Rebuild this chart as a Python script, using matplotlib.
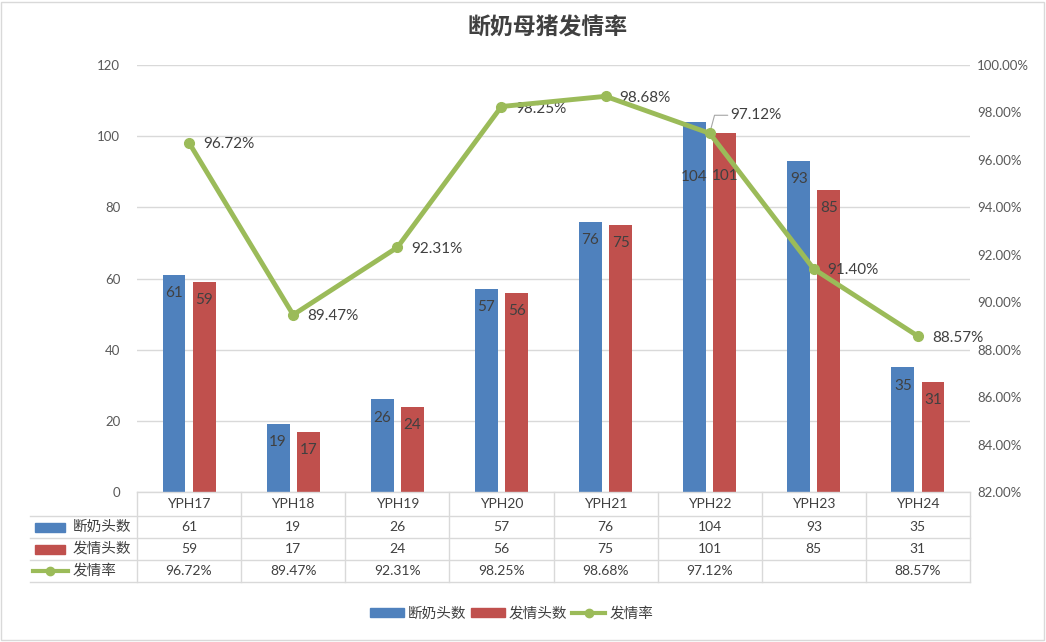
import numpy as np
import matplotlib.pyplot as plt
from matplotlib.patches import Patch, Rectangle
from matplotlib.lines import Line2D
from matplotlib.transforms import blended_transform_factory
from matplotlib.ticker import FuncFormatter

plt.rcParams['font.family'] = ['Lato', 'Noto Sans CJK SC', 'DejaVu Sans']

# данные
categories = ['YPH17', 'YPH18', 'YPH19', 'YPH20', 'YPH21', 'YPH22', 'YPH23', 'YPH24']
weaned = [61, 19, 26, 57, 76, 104, 93, 35]
estrus = [59, 17, 24, 56, 75, 101, 85, 31]
rate = [96.72, 89.47, 92.31, 98.25, 98.68, 97.12, 91.40, 88.57]
rate_table = ['96.72%', '89.47%', '92.31%', '98.25%', '98.68%', '97.12%', '', '88.57%']
series_names = ['断奶头数', '发情头数', '发情率']

BLUE = '#4F81BD'
RED = '#C0504D'
GREEN = '#9BBB59'
TXT = '#404040'
GRID = '#D9D9D9'

W, H = 1046, 642
fig = plt.figure(figsize=(W / 100, H / 100), dpi=100)
fx = lambda px: px / W
fy = lambda py: 1 - py / H

left, right, top, bottom = 137, 970, 65, 492
ax = fig.add_axes([fx(left), fy(bottom), fx(right - left), (bottom - top) / H])

x = np.arange(len(categories))
bw = 0.22
off = 0.145
ax.bar(x - off, weaned, bw, color=BLUE, zorder=2)
ax.bar(x + off, estrus, bw, color=RED, zorder=2)
ax.set_xlim(-0.5, len(categories) - 0.5)
ax.set_ylim(0, 120)
ax.set_yticks(range(0, 121, 20))
ax.grid(axis='y', color=GRID, linewidth=1, zorder=0)
ax.set_axisbelow(True)
ax.set_xticks([])
for s in ax.spines.values():
    s.set_visible(False)
ax.tick_params(axis='y', length=0, pad=12, labelsize=9.5, labelcolor='#595959')

# подписи столбцов (внутри, у вершины)
for i in range(len(categories)):
    dy = -40 if categories[i] == 'YPH22' else -13
    ax.annotate(str(weaned[i]), (x[i] - off, weaned[i]), xytext=(0, dy), textcoords='offset points',
                ha='center', va='center', fontsize=11, color=TXT, zorder=4)
    dy2 = -31 if categories[i] == 'YPH22' else -13
    ax.annotate(str(estrus[i]), (x[i] + off, estrus[i]), xytext=(0, dy2), textcoords='offset points',
                ha='center', va='center', fontsize=11, color=TXT, zorder=4)

# правая ось - линия
ax2 = ax.twinx()
ax2.set_ylim(82, 100)
ax2.set_yticks(np.arange(82, 100.1, 2))
ax2.yaxis.set_major_formatter(FuncFormatter(lambda v, p: f'{v:.2f}%'))
for s in ax2.spines.values():
    s.set_visible(False)
ax2.tick_params(axis='y', length=0, pad=5, labelsize=9.5, labelcolor='#595959')
ax2.plot(x, rate, color=GREEN, linewidth=3.5, marker='o', markersize=7, zorder=5)
for i in range(len(categories)):
    if categories[i] == 'YPH22':
        ax2.annotate(f'{rate[i]:.2f}%', (x[i], rate[i]), xytext=(15, 13), textcoords='offset points',
                     ha='left', va='center', fontsize=11, color=TXT,
                     arrowprops=dict(arrowstyle='-', color='#A6A6A6', lw=0.8,
                                     connectionstyle='angle,angleA=0,angleB=75,rad=0',
                                     shrinkA=0, shrinkB=3))
    else:
        dy = -2 if categories[i] == 'YPH20' else -1
        ax2.annotate(f'{rate[i]:.2f}%', (x[i], rate[i]), xytext=(10, dy), textcoords='offset points',
                     ha='left', va='center', fontsize=11, color=TXT)

# таблица данных
tr = blended_transform_factory(ax.transData, fig.transFigure)
rows_px = [492, 516, 538, 560, 582]
for k in range(len(categories) + 1):
    ax.plot([k - 0.5, k - 0.5], [fy(rows_px[0]), fy(rows_px[-1])], transform=tr,
            color=GRID, lw=1, clip_on=False)
ax.plot([-0.5, len(categories) - 0.5], [fy(492), fy(492)], transform=tr, color=GRID, lw=1, clip_on=False)
for py in rows_px[1:]:
    fig.add_artist(Line2D([fx(30), fx(right)], [fy(py), fy(py)], color=GRID, lw=1))

table_rows = [categories, [str(v) for v in weaned], [str(v) for v in estrus], rate_table]
for r, vals in enumerate(table_rows):
    yc = fy((rows_px[r] + rows_px[r + 1]) / 2)
    for i, v in enumerate(vals):
        ax.text(x[i], yc, v, transform=tr, ha='center', va='center', fontsize=10, color=TXT)

for r, name in enumerate(series_names):
    yc = fy((rows_px[r + 1] + rows_px[r + 2]) / 2)
    if r < 2:
        fig.add_artist(Rectangle((fx(35), yc - 4.5 / H), fx(30), 9 / H, color=[BLUE, RED][r]))
    else:
        fig.add_artist(Line2D([fx(33), fx(68)], [yc, yc], color=GREEN, lw=3))
        fig.add_artist(Line2D([fx(50)], [yc], color=GREEN, marker='o', markersize=6))
    fig.text(fx(73), yc, name, ha='left', va='center', fontsize=10.5, color=TXT)

# легенда
handles = [Patch(color=BLUE), Patch(color=RED),
           Line2D([], [], color=GREEN, lw=3, marker='o', markersize=6)]
fig.legend(handles, series_names, loc='center', bbox_to_anchor=(fx(512), fy(614)), ncol=3,
           frameon=False, fontsize=10.5, handlelength=2.3, handleheight=0.6,
           columnspacing=0.3, handletextpad=0.3, labelcolor=TXT)

fig.text(fx(548), fy(28), '断奶母猪发情率', ha='center', va='center', fontsize=16.5,
         fontweight='bold', color=TXT)

# рамка
fig.add_artist(Rectangle((fx(1), fy(640)), fx(1043), 638 / H, fill=False, edgecolor='#D9D9D9', lw=1))

fig.savefig('out.png', dpi=100)
